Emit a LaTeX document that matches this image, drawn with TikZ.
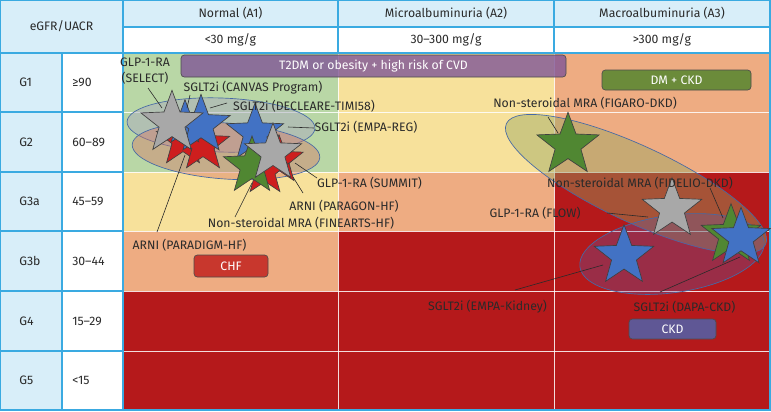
\documentclass[tikz,border=0pt]{standalone}
\usepackage{fontspec}
\setmainfont{Fira Sans}
\usetikzlibrary{shapes.geometric}
\definecolor{hdr}{RGB}{216,238,249}
\definecolor{bl}{RGB}{58,170,225}
\definecolor{cg}{RGB}{185,215,166}
\definecolor{cy}{RGB}{247,225,155}
\definecolor{co}{RGB}{238,172,130}
\definecolor{cr}{RGB}{181,25,27}
\definecolor{txt}{RGB}{42,42,42}
\definecolor{sblue}{RGB}{66,114,196}
\definecolor{sgray}{RGB}{168,168,168}
\definecolor{sred}{RGB}{206,30,30}
\definecolor{sgreen}{RGB}{80,135,50}
\definecolor{bpurple}{RGB}{128,85,150}
\definecolor{bgreen}{RGB}{107,139,58}
\definecolor{bred}{RGB}{200,55,45}
\definecolor{bviolet}{RGB}{95,87,149}
\definecolor{eline}{RGB}{70,105,165}
\tikzset{
  lbl/.style={text=txt, inner sep=0pt},
  hd/.style={text=txt, inner sep=0pt},
  banner/.style={rounded corners=2.5pt, draw=black!70, line width=0.5pt, text=white, inner sep=0pt},
  sstar/.style={star, star points=5, star point ratio=2.4, draw=black!75, line width=0.5pt, inner sep=0pt, minimum size=#1},
  leader/.style={draw=txt, line width=0.45pt},
  ell/.style={draw=eline, line width=0.5pt},
  gridw/.style={draw=white, line width=0.7pt, opacity=0.85},
  gridb/.style={draw=bl, line width=0.8pt}
}
\begin{document}
\begin{tikzpicture}[x=0.75pt,y=-0.75pt, font=\fontsize{9.2}{11}\selectfont]
\useasboundingbox (0,0) rectangle (771,411);
% header backgrounds
\fill[hdr] (0,0) rectangle (770,27);
\fill[hdr] (0,27) rectangle (123,53);
\fill[white] (123,27) rectangle (770,53);
\fill[hdr] (0,53) rectangle (62,410);
\fill[white] (62,53) rectangle (123,410);
% risk cells
\fill[cg] (123,53) rectangle (338,172);
\fill[cy] (338,53) rectangle (554,172);
\fill[co] (554,53) rectangle (770,172);
\fill[cy] (123,172) rectangle (338,231);
\fill[co] (338,172) rectangle (554,231);
\fill[cr] (554,172) rectangle (770,231);
\fill[co] (123,231) rectangle (338,291);
\fill[cr] (338,231) rectangle (770,291);
\fill[cr] (123,291) rectangle (770,410);
% white grid
\foreach \yy in {112,172,231,291,351} \draw[gridw] (123,\yy) -- (770,\yy);
\foreach \xx in {338,554} \draw[gridw] (\xx,53) -- (\xx,410);
% blue grid
\draw[gridb] (0,0) rectangle (770,410);
\draw[gridb] (123,0) -- (123,410);
\draw[gridb] (62,53) -- (62,410);
\draw[gridb] (338,0) -- (338,53);
\draw[gridb] (554,0) -- (554,53);
\draw[gridb] (123,27) -- (770,27);
\draw[gridb] (0,53) -- (770,53);
\foreach \yy in {112,172,231,291,351} \draw[gridb] (0,\yy) -- (123,\yy);
% header text
\node[hd] (h0) at (61.5,26.5) {eGFR/UACR};
\node[hd] (h1) at (230.5,13.5) {Normal (A1)};
\node[hd] (h2) at (446,13.5) {Microalbuminuria (A2)};
\node[hd] (h3) at (662,13.5) {Macroalbuminuria (A3)};
\node[hd] (u1) at (230.5,40) {<30 mg/g};
\node[hd] (u2) at (446,40) {30–300 mg/g};
\node[hd] (u3) at (662,40) {>300 mg/g};
\node[hd,anchor=west] (g1) at (19,82.5) {G1};
\node[hd,anchor=west] (g2) at (19,142) {G2};
\node[hd,anchor=west] (g3a) at (19,201.5) {G3a};
\node[hd,anchor=west] (g3b) at (19,261) {G3b};
\node[hd,anchor=west] (g4) at (19,321) {G4};
\node[hd,anchor=west] (g5) at (19,380.5) {G5};
\node[hd,anchor=west] (v1) at (72,82.5) {≥90};
\node[hd,anchor=west] (v2) at (72,142) {60–89};
\node[hd,anchor=west] (v3a) at (72,201.5) {45–59};
\node[hd,anchor=west] (v3b) at (72,261) {30–44};
\node[hd,anchor=west] (v4) at (72,321) {15–29};
\node[hd,anchor=west] (v5) at (72,380.5) {<15};
% ellipses
\begin{scope}[shift={(221,125)}, rotate=-2]
\path[ell, fill={rgb,255:red,170;green,170;blue,190}, fill opacity=0.5] (0,0) ellipse [x radius=70.5pt, y radius=20.25pt];
\end{scope}
\begin{scope}[shift={(226,151)}, rotate=-4]
\path[ell, fill={rgb,255:red,215;green,115;blue,100}, fill opacity=0.42] (0,0) ellipse [x radius=70.5pt, y radius=21pt];
\end{scope}
\begin{scope}[shift={(636,184)}, rotate=-25]
\path[ell, fill={rgb,255:red,147;green,165;blue,95}, fill opacity=0.42] (0,0) ellipse [x radius=107.25pt, y radius=28.5pt];
\end{scope}
\begin{scope}[shift={(672,254)}, rotate=8]
\path[ell, fill={rgb,255:red,100;green,90;blue,165}, fill opacity=0.32] (0,0) ellipse [x radius=69.75pt, y radius=29pt];
\end{scope}
% banners
\node[banner, fill=bpurple, fill opacity=0.8, text opacity=1, minimum width=288.75pt, minimum height=16.5pt] (b1) at (373.5,66) {T2DM or obesity + high risk of CVD};
\node[banner, fill=bgreen, minimum width=111.75pt, minimum height=15pt] (b2) at (676.5,80) {DM + CKD};
\node[banner, fill=bred, minimum width=55.5pt, minimum height=16.5pt] (b3) at (231,266) {CHF};
\node[banner, fill=bviolet, minimum width=65.25pt, minimum height=15pt] (b4) at (672.5,329) {CKD};
% stars left cluster
\node[sstar=42pt, fill=sred] (r1) at (183,140) {};
\node[sstar=42pt, fill=sred] (r2) at (203,145) {};
\node[sstar=35pt, fill=sblue] (bs) at (185,123) {};
\node[sstar=46pt, fill=sblue] (bb) at (201,125) {};
\node[sstar=49pt, fill=sgray] (gs) at (172,123) {};
\node[sstar=38pt, fill=sred] (r3) at (279,160) {};
\node[sstar=38pt, fill=sred] (r4) at (265,171) {};
\node[sstar=45pt, fill=sblue] (be) at (255,133) {};
\node[sstar=45pt, fill=sgreen] (gf) at (252,166) {};
\node[sstar=45pt, fill=sgray] (gsum) at (273,153) {};
% stars right cluster
\node[sstar=49pt, fill=sgreen] (gfig) at (568,145) {};
\node[sstar=47pt, fill=sgray] (gflow) at (672,209) {};
\node[sstar=47pt, fill=sblue] (bek) at (624,256) {};
\node[sstar=47pt, fill=sgreen] (gfid) at (731,235) {};
\node[sstar=46pt, fill=sblue] (bdapa) at (741,238) {};
% labels
\node[lbl, align=center] (lsel) at (145,71.5) {GLP-1-RA\\[1pt](SELECT)};
\node[lbl] (lcan) at (253,88) {SGLT2i (CANVAS Program)};
\node[lbl] (ldec) at (304,106) {SGLT2i (DECLEARE-TIMI58)};
\node[lbl] (lemr) at (366,127) {SGLT2i (EMPA-REG)};
\node[lbl] (lsum) at (369.5,183) {GLP-1-RA (SUMMIT)};
\node[lbl] (lpar) at (344,206) {ARNI (PARAGON-HF)};
\node[lbl] (lfin) at (301,223) {Non-steroidal MRA (FINEARTS-HF)};
\node[lbl] (lpdg) at (189.5,245) {ARNI (PARADIGM-HF)};
\node[lbl] (lfig) at (585,103) {Non-steroidal MRA (FIGARO-DKD)};
\node[lbl] (lfid) at (640,183) {Non-steroidal MRA (FIDELIO-DKD)};
\node[lbl] (lflw) at (535,213) {GLP-1-RA (FLOW)};
\node[lbl] (lemk) at (487.5,307) {SGLT2i (EMPA-Kidney)};
\node[lbl] (ldap) at (684.5,307) {SGLT2i (DAPA-CKD)};
% leader coordinates
\coordinate (a1) at (148,88);  \coordinate (e1) at (162,108);
\coordinate (a2) at (190,95);  \coordinate (e2) at (187,108);
\coordinate (a3) at (227,103); \coordinate (e3) at (210,108);
\coordinate (a4) at (314,128); \coordinate (e4) at (288,127);
\coordinate (a5) at (317,178); \coordinate (e5) at (295,163);
\coordinate (a6) at (303,193); \coordinate (e6) at (293,177);
\coordinate (a7) at (235,217); \coordinate (e7) at (252,183);
\coordinate (a8) at (157,232); \coordinate (e8) at (185,155);
\coordinate (a9) at (548,117); \coordinate (e9) at (558,133);
\coordinate (a10) at (710,188); \coordinate (e10) at (723,218);
\coordinate (a11) at (607,213); \coordinate (e11) at (648,217);
\coordinate (a12) at (515,290); \coordinate (e12) at (603,265);
\coordinate (a13) at (660,292); \coordinate (e13) at (740,257);
\foreach \i in {1,...,13} \draw[leader] (a\i) -- (e\i);
\end{tikzpicture}
\end{document}
